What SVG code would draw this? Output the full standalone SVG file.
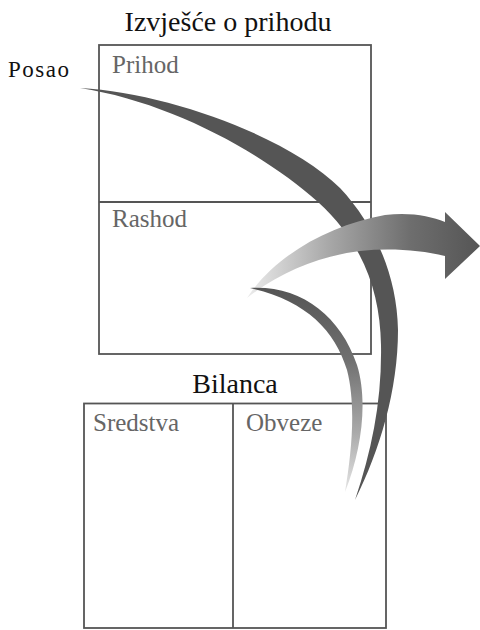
<svg xmlns="http://www.w3.org/2000/svg" width="480" height="630" viewBox="0 0 480 630">
  <style>
    .box { fill: none; stroke: #555; stroke-width: 1.8; }
    .title { font-family: "Liberation Serif", "Times New Roman", serif; font-size: 28px; fill: #111; }
    .label { font-family: "Liberation Serif", "Times New Roman", serif; font-size: 25px; fill: #666; }
    .side { font-family: "Liberation Serif", "Times New Roman", serif; font-size: 23px; fill: #111; letter-spacing: 1.5px; }
  </style>
  <defs>
    <linearGradient id="gRight" x1="247" y1="0" x2="480" y2="0" gradientUnits="userSpaceOnUse">
      <stop offset="0" stop-color="#ececec"/>
      <stop offset="0.35" stop-color="#a8a8a8"/>
      <stop offset="0.7" stop-color="#6e6e6e"/>
      <stop offset="1" stop-color="#555"/>
    </linearGradient>
    <linearGradient id="gDown" x1="0" y1="288" x2="0" y2="495" gradientUnits="userSpaceOnUse">
      <stop offset="0" stop-color="#555"/>
      <stop offset="0.35" stop-color="#707070"/>
      <stop offset="0.7" stop-color="#aaaaaa"/>
      <stop offset="1" stop-color="#e8e8e8"/>
    </linearGradient>
  </defs>

  <text class="title" x="228" y="31" text-anchor="middle">Izvješće o prihodu</text>
  <text class="side" x="8" y="77">Posao</text>

  <g id="income-statement">
    <rect class="box" x="99" y="45" width="272" height="309"/>
    <line class="box" x1="99" y1="202" x2="371" y2="202"/>
    <g id="prihod"><text class="label" x="112" y="73">Prihod</text></g>
    <g id="rashod"><text class="label" x="112" y="227">Rashod</text></g>
  </g>

  <text class="title" x="235" y="393" text-anchor="middle">Bilanca</text>

  <g id="balance-sheet">
    <rect class="box" x="84" y="403.5" width="302" height="224.5"/>
    <line class="box" x1="233" y1="403.5" x2="233" y2="628"/>
    <g id="sredstva"><text class="label" x="93" y="431">Sredstva</text></g>
    <g id="obveze"><text class="label" x="246" y="431">Obveze</text></g>
  </g>

  <g id="connectors">
    <path id="posao-flow" fill="#555" d="M80,88 C170,93 290,138 340,188 C372,222 397,272 398,330 C398,390 380,450 355,500 C372,450 382,400 381,345 C380,290 362,242 318,202 C262,152 170,102 80,88 Z"/>
    <path id="out-flow" fill="url(#gRight)" d="M247,298 C275,255 330,225 385,215 C410,212 430,216 445,222 L445,212 L480,246 L445,279 L445,256 C420,250 390,248 360,251 C320,256 280,272 247,298 Z"/>
    <path id="down-flow" fill="url(#gDown)" d="M250,288 C300,285 340,315 357,365 C368,400 362,450 345,492 C352,450 356,405 347,370 C335,330 305,300 250,288 Z"/>
  </g>
</svg>
